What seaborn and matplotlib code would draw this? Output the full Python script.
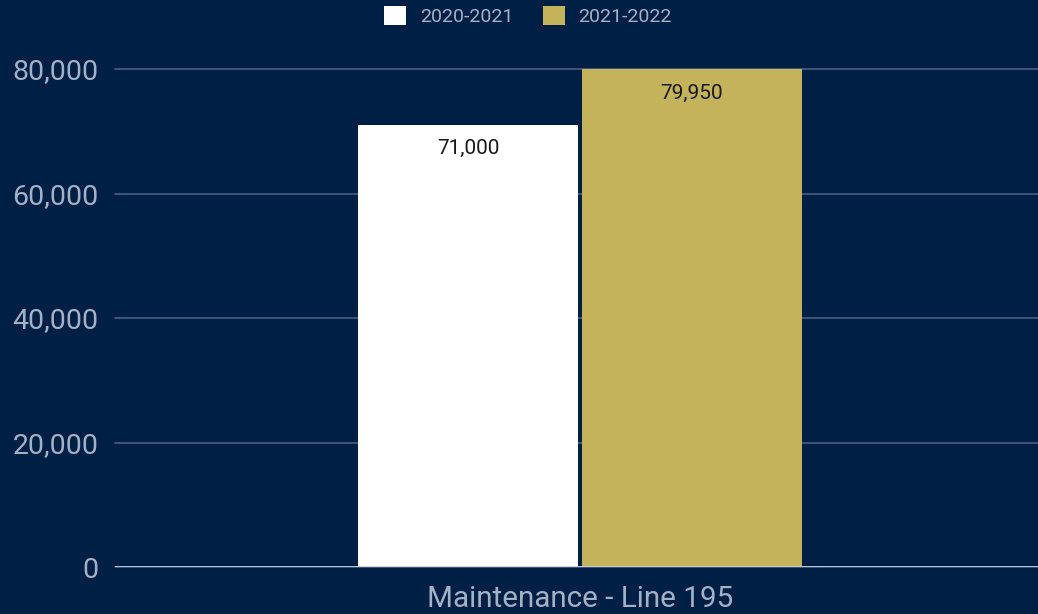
import pandas as pd
import matplotlib.pyplot as plt
import seaborn as sns
from matplotlib.ticker import FuncFormatter

# Daten
categories = ["Maintenance - Line 195"]
seasons = ["2020-2021", "2021-2022"]
values = [71000, 79950]
colors = ["#ffffff", "#c4b35a"]

bg = "#001f45"
text_col = "#a3b1c6"
grid_col = "#4a5f80"

df = pd.DataFrame({
    "category": categories * len(seasons),
    "season": seasons,
    "value": values,
})

sns.set_theme(style="dark")
plt.rcParams["font.family"] = ["Roboto", "DejaVu Sans"]

fig = plt.figure(figsize=(10.38, 6.14), dpi=100, facecolor=bg)
ax = fig.add_axes([0.1108, 0.0765, 0.8892, 0.8111], facecolor=bg)

sns.barplot(
    data=df, x="category", y="value", hue="season",
    palette=dict(zip(seasons, colors)), saturation=1,
    width=0.4854, gap=0.018, linewidth=0, ax=ax, zorder=3,
)

ax.set_ylim(0, 80000)
ax.set_xlim(-0.5038, 0.4962)
ax.set_yticks([0, 20000, 40000, 60000, 80000])
ax.yaxis.set_major_formatter(FuncFormatter(lambda v, _: f"{int(v):,}"))
ax.grid(axis="y", color=grid_col, linewidth=1.2, zorder=0)
ax.grid(axis="x", visible=False)
for gl in ax.get_ygridlines():
    gl.set_clip_on(False)
ax.axhline(0, color="#c8d0dc", linewidth=2, zorder=4)
for s in ax.spines.values():
    s.set_visible(False)

ax.tick_params(axis="y", length=0, pad=12, labelsize=20.5, labelcolor=text_col)
ax.tick_params(axis="x", length=0, pad=13, labelsize=21.3, labelcolor=text_col)
ax.set_xlabel("")
ax.set_ylabel("")

# Wertbeschriftungen oben in den Balken
for cont in ax.containers:
    for bar in cont:
        h = bar.get_height()
        ax.annotate(f"{int(h):,}", (bar.get_x() + bar.get_width() / 2, h),
                    xytext=(0, -17), textcoords="offset points",
                    ha="center", va="center", fontsize=15, color="#1a1a1a", zorder=5)

handles, labels = ax.get_legend_handles_labels()
leg = ax.legend(handles, labels, loc="center", bbox_to_anchor=(0.4475, 1.106),
                ncol=2, frameon=False, handlelength=1.15, handleheight=1.15,
                handletextpad=0.7, columnspacing=1.5, fontsize=14)
for t in leg.get_texts():
    t.set_color(text_col)

fig.savefig("out.png", dpi=100, facecolor=bg)
